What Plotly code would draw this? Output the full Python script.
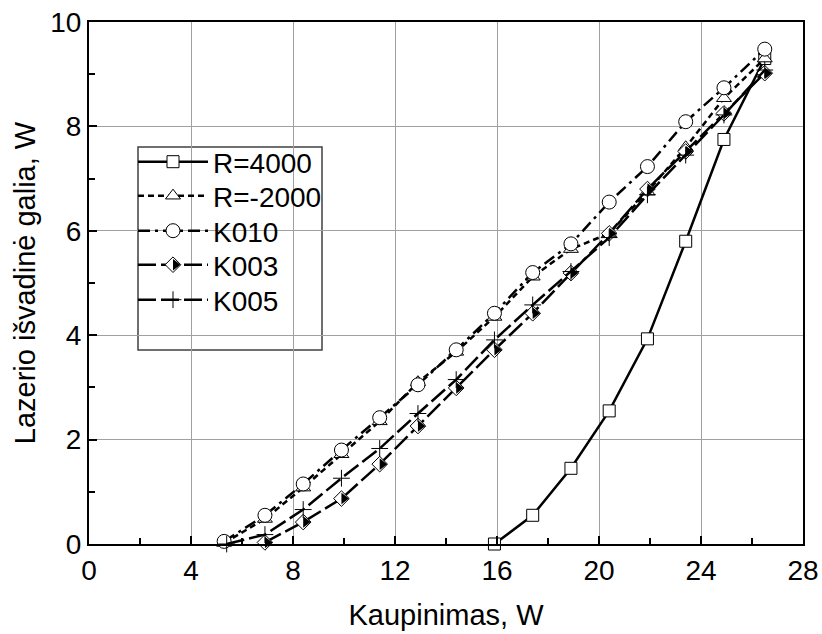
import plotly.graph_objects as go

# ---- data ----
x_r4000 = [15.9, 17.4, 18.9, 20.4, 21.9, 23.4, 24.9, 26.5]
y_r4000 = [0.0, 0.55, 1.45, 2.55, 3.93, 5.8, 7.75, 9.3]

x_r2000 = [5.3, 6.9, 8.4, 9.9, 11.4, 12.9, 14.4, 15.9, 17.4, 18.9, 20.4, 21.9, 23.4, 24.9, 26.5]
y_r2000 = [0.02, 0.48, 1.08, 1.72, 2.35, 3.1, 3.68, 4.35, 5.12, 5.65, 5.95, 6.75, 7.6, 8.54, 9.3]

x_k010 = [5.3, 6.9, 8.4, 9.9, 11.4, 12.9, 14.4, 15.9, 17.4, 18.9, 20.4, 21.9, 23.4, 24.9, 26.5]
y_k010 = [0.05, 0.55, 1.15, 1.8, 2.42, 3.05, 3.72, 4.42, 5.2, 5.75, 6.55, 7.23, 8.09, 8.74, 9.48]

x_k003 = [6.9, 8.4, 9.9, 11.4, 12.9, 14.4, 15.9, 17.4, 18.9, 20.4, 21.9, 23.4, 24.9, 26.5]
y_k003 = [0.03, 0.42, 0.87, 1.53, 2.26, 2.99, 3.72, 4.42, 5.19, 5.95, 6.8, 7.52, 8.25, 9.02]

x_k005 = [5.4, 6.9, 8.4, 9.9, 11.4, 12.9, 14.4, 15.9, 17.4, 18.9, 20.4, 21.9, 23.4, 24.9, 26.5]
y_k005 = [0.0, 0.18, 0.66, 1.26, 1.83, 2.5, 3.15, 3.91, 4.58, 5.22, 5.87, 6.69, 7.45, 8.22, 9.08]

names = ["R=4000", "R=-2000", "K010", "K003", "K005"]
x_ticks = [0, 4, 8, 12, 16, 20, 24, 28]
y_ticks = [0, 2, 4, 6, 8, 10]

# ---- layout geometry ----
W, H = 822, 634
ML, MR, MT, MB = 89, 19, 22, 90
PW, PH = W - ML - MR, H - MT - MB
XR = [0, 28]
YR = [0, 10]
px_per_x = PW / (XR[1] - XR[0])

FONT = "Liberation Sans, Arial, sans-serif"
LW = 2.5

fig = go.Figure()

def add(x, y, name, dash, symbol, size, legend, color="white", lwm=1):
    fig.add_trace(go.Scatter(
        x=x, y=y, name=name, mode="lines+markers",
        line=dict(color="black", width=LW, dash=dash),
        marker=dict(symbol=symbol, size=size, color=color,
                    line=dict(color="black", width=lwm)),
        legend=legend, cliponaxis=False))

add(x_r4000, y_r4000, names[0], "solid", "square", 12, "legend")
add(x_r2000, y_r2000, names[1], "6px,4px", "triangle-up", 13, "legend2")
add(x_k010, y_k010, names[2], "12px,5px,3px,5px", "circle", 14, "legend3")
add(x_k003, y_k003, names[3], "18px,5px", "diamond", 12, "legend4")
add(x_k005, y_k005, names[4], "18px,5px", "cross-thin", 12, "legend5")

# right half of the K003 diamonds: a black triangle shifted by a few pixels
tri_size = 10
tri_shift_px = tri_size / 4.0
dx = tri_shift_px / px_per_x
fig.add_trace(go.Scatter(
    x=[v + dx for v in x_k003], y=y_k003, name="", mode="markers",
    marker=dict(symbol="triangle-right", size=tri_size, color="black",
                line=dict(width=0)),
    legend="legend6", cliponaxis=False))

# legends, one per row, inside a drawn box
row_y_px = [162, 196, 231, 265, 300]
leg_x_px = 133
leg_common = dict(bgcolor="rgba(0,0,0,0)", borderwidth=0,
                  font=dict(family=FONT, size=28, color="black"),
                  xanchor="left", yanchor="middle", itemwidth=70,
                  tracegroupgap=0)
legs = {}
keys = ["legend", "legend2", "legend3", "legend4", "legend5"]
for k, ry in zip(keys, row_y_px):
    legs[k] = dict(x=(leg_x_px - ML) / PW, y=(H - MB - ry) / PH, **leg_common)
legs["legend6"] = dict(x=(leg_x_px + tri_shift_px - ML) / PW,
                       y=(H - MB - row_y_px[3]) / PH, **leg_common)

fig.update_layout(
    width=W, height=H,
    margin=dict(l=ML, r=MR, t=MT, b=MB, pad=0, autoexpand=False),
    paper_bgcolor="white", plot_bgcolor="white",
    font=dict(family=FONT, size=28, color="black"),
    showlegend=True,
    **legs,
    shapes=[dict(type="rect", xref="paper", yref="paper",
                 x0=(138 - ML) / PW, x1=(322 - ML) / PW,
                 y0=(H - MB - 350) / PH, y1=(H - MB - 147) / PH,
                 line=dict(color="#404040", width=1.5),
                 fillcolor="white", layer="below")],
    xaxis=dict(range=XR, tickvals=x_ticks, ticktext=[str(v) for v in x_ticks],
               automargin=False,
               showgrid=True, gridcolor="#a0a0a0", gridwidth=1,
               zeroline=False, showline=True, linecolor="black", linewidth=2,
               mirror=True, ticks="inside", ticklen=8, tickwidth=2,
               tickcolor="black", tickfont=dict(size=28),
               minor=dict(tickvals=[2, 6, 10, 14, 18, 22, 26], ticks="inside",
                          ticklen=6, tickwidth=2, tickcolor="black",
                          showgrid=False),
               title=dict(text="Kaupinimas, W", font=dict(size=29), standoff=20)),
    yaxis=dict(range=YR, tickvals=y_ticks, ticktext=[str(v) for v in y_ticks],
               automargin=False,
               showgrid=True, gridcolor="#a0a0a0", gridwidth=1,
               zeroline=False, showline=True, linecolor="black", linewidth=2,
               mirror=True, ticks="inside", ticklen=8, tickwidth=2,
               tickcolor="black", tickfont=dict(size=28),
               minor=dict(tickvals=[1, 3, 5, 7, 9], ticks="inside",
                          ticklen=6, tickwidth=2, tickcolor="black",
                          showgrid=False),
               title=dict(text="Lazerio išvadinė galia, W", font=dict(size=29),
                          standoff=6)),
)

fig.write_html("out.html")
